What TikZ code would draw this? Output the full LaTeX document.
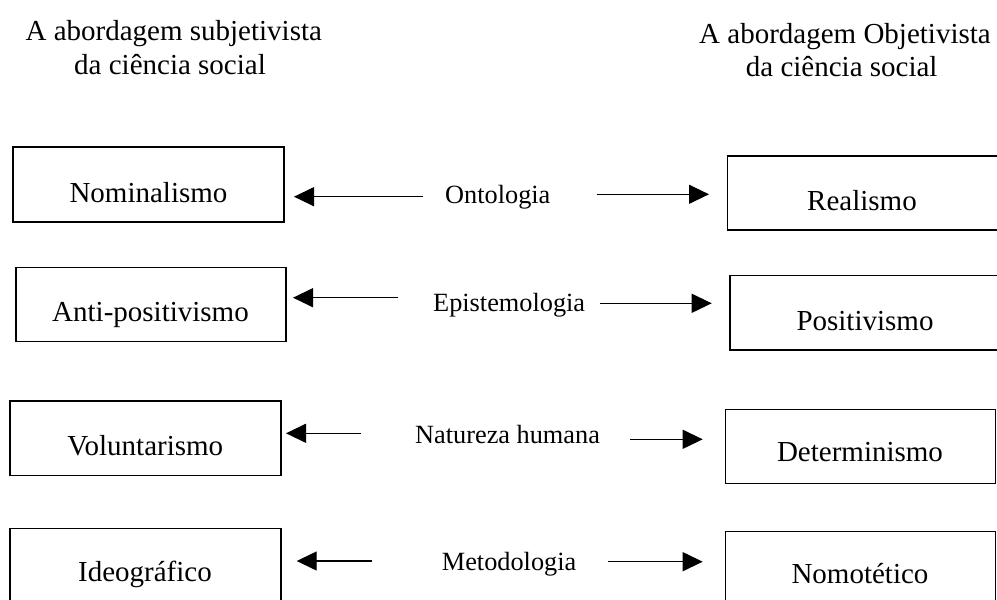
\documentclass[tikz,border=0pt]{standalone}
\usepackage{fontspec}
\setmainfont{Liberation Serif}
\usetikzlibrary{arrows.meta,fit}
\begin{document}
\begin{tikzpicture}[x=1pt,y=-1pt,
  box/.style={draw, line width=1.2pt, inner sep=0pt},
  boxtxt/.style={anchor=base, inner sep=0pt, font=\fontsize{29}{33}\selectfont},
  lbl/.style={anchor=base west, inner sep=0pt, font=\fontsize{26.3}{30}\selectfont},
  arr/.style={line width=1.3pt, -{Triangle[length=20pt,width=19pt]}}]
\useasboundingbox (0,0) rectangle (997,600);
\clip (0,0) rectangle (997,600);
\fill[white] (0,0) rectangle (997,600);

% titles
\node[boxtxt] (tl1) at (173.8,40.7) {A abordagem subjetivista};
\node[boxtxt] (tl2) at (170,74) {da ciência social};
\node[boxtxt] (tr1) at (845,43.3) {A abordagem Objetivista};
\node[boxtxt] (tr2) at (841.7,76.7) {da ciência social};

% boxes
\node[box, fit={(13,147) (284,222)}] (nom) {};
\node[box, fit={(16,267.3) (286,341.7)}] (anti) {};
\node[box, fit={(10,401) (281,475.3)}] (vol) {};
\node[box, fit={(10,528.7) (281,603)}] (ideo) {};
\node[box, fit={(727.7,156) (998,230)}] (real) {};
\node[box, fit={(730,275.7) (1000,350)}] (pos) {};
\node[box, fit={(725.7,409.3) (995.7,483.3)}] (det) {};
\node[box, fit={(725.7,531.7) (995.7,606)}] (nomo) {};

% box texts
\node[boxtxt] (nomt) at (148.5,202.7) {Nominalismo};
\node[boxtxt] (antit) at (150.5,321.7) {Anti-positivismo};
\node[boxtxt] (volt) at (145.3,455) {Voluntarismo};
\node[boxtxt] (ideot) at (145,581.7) {Ideográfico};
\node[boxtxt] (realt) at (862,210) {Realismo};
\node[boxtxt] (post) at (865,330) {Positivismo};
\node[boxtxt] (dett) at (860,461.7) {Determinismo};
\node[boxtxt] (nomot) at (860,583.3) {Nomotético};

% labels
\node[lbl] (onto) at (445,203.3) {Ontologia};
\node[lbl] (epis) at (433,311.7) {Epistemologia};
\node[lbl] (natu) at (415,443.3) {Natureza humana};
\node[lbl] (meto) at (441.7,570.7) {Metodologia};

% arrow endpoints
\coordinate (o1) at (423,196.7);  \coordinate (o2) at (294,196.7);
\coordinate (o3) at (596.7,194.3); \coordinate (o4) at (709,194.3);
\coordinate (e1) at (398,297.7);  \coordinate (e2) at (293,297.7);
\coordinate (e3) at (600,303.3);  \coordinate (e4) at (711.7,303.3);
\coordinate (n1) at (361,433.3);  \coordinate (n2) at (286,433.3);
\coordinate (n3) at (630,439.3);  \coordinate (n4) at (702.7,439.3);
\coordinate (m1) at (371.7,561);  \coordinate (m2) at (296.7,561);
\coordinate (m3) at (608.3,561.7); \coordinate (m4) at (702.7,561.7);

\draw[arr] (o1) -- (o2);
\draw[arr] (o3) -- (o4);
\draw[arr] (e1) -- (e2);
\draw[arr] (e3) -- (e4);
\draw[arr] (n1) -- (n2);
\draw[arr] (n3) -- (n4);
\draw[arr] (m1) -- (m2);
\draw[arr] (m3) -- (m4);
\end{tikzpicture}
\end{document}
